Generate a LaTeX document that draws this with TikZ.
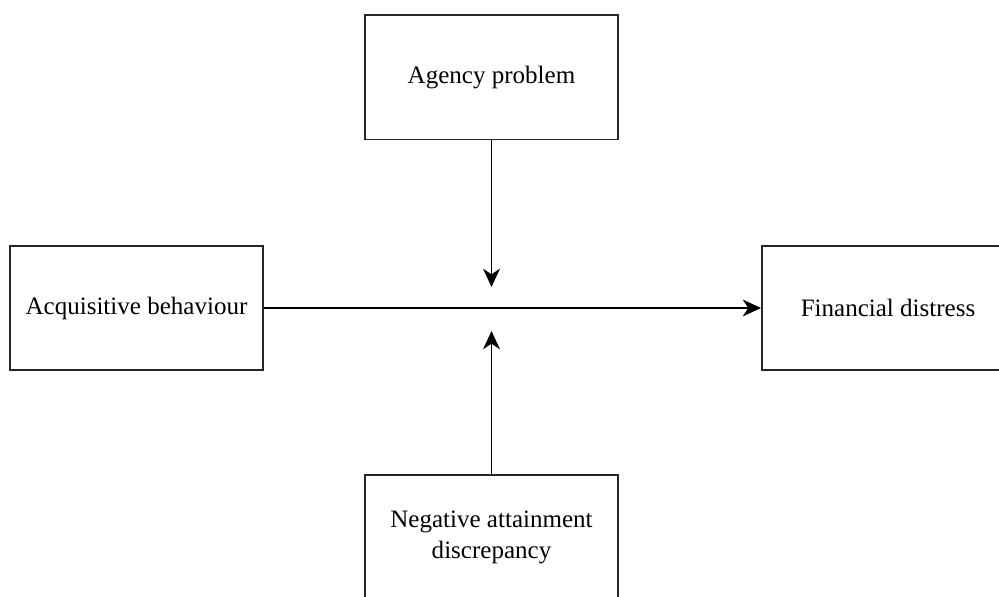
\documentclass[tikz,border=0pt]{standalone}
\usepackage{fontspec}
\setmainfont{Liberation Serif}
\usetikzlibrary{arrows.meta}

\begin{document}
\begin{tikzpicture}[x=0.025cm,y=-0.025cm]
            \tikzstyle{every node}+=[inner sep=0pt]
            \tikzset{factor/.style={draw=black!85, line width=1.4pt, minimum width=6.3cm, minimum height=3.1cm, align=center, font=\fontsize{17.8}{22}\selectfont},
                     link/.style={line width=1.3pt, -{Stealth[length=13pt,width=12pt,inset=4pt]}}}
            \useasboundingbox (0,0) rectangle (999,597);
            \clip (0,0) rectangle (999,597);
            \node [factor] (agency) at (491.5,77.5) {Agency problem};
            \node [factor] (acq) at (136.5,308) {Acquisitive behaviour};
            \node [factor] (fin) at (888,308) {Financial distress};
            \node [factor] (neg) at (491.5,537) {Negative attainment\\discrepancy};
            \coordinate (down) at (491.5,287);
            \coordinate (up) at (491.5,331);
            \draw [link] (agency) -- (down);
            \draw [link] (acq) -- (fin);
            \draw [link] (neg) -- (up);
\end{tikzpicture}
\end{document}
